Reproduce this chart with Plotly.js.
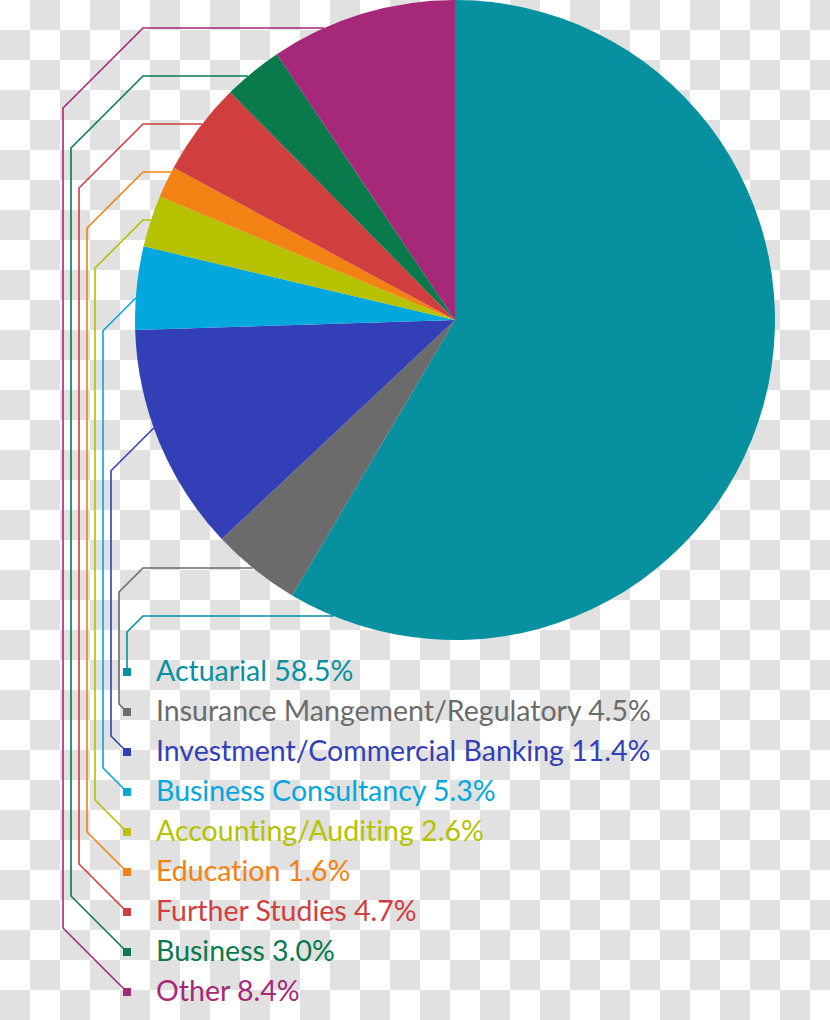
<!DOCTYPE html>
<html>
<head>
<meta charset="utf-8">
<script src="https://cdn.plot.ly/plotly-3.0.1.min.js"></script>
<style>
  html, body { margin: 0; padding: 0; }
  body {
    width: 830px; height: 1020px; overflow: hidden;
    background: repeating-conic-gradient(#e1e1e1 0% 25%, #ffffff 0% 50%) 0 0 / 60px 60px;
  }
  #chart { width: 830px; height: 1020px; }
  text { font-variant-ligatures: none; font-feature-settings: "liga" 0, "clig" 0; }
</style>
</head>
<body>
<div id="chart"></div>
<script>
// ---- data ----
const labels = [
  "Actuarial",
  "Insurance Mangement/Regulatory",
  "Investment/Commercial Banking",
  "Business Consultancy",
  "Accounting/Auditing",
  "Education",
  "Further Studies",
  "Business",
  "Other"
];
// percentages as printed in the legend
const values = [58.5, 4.5, 11.4, 5.3, 2.6, 1.6, 4.7, 3.0, 8.4];
// slice sizes as actually drawn in the picture (measured from slice angles)
const drawnShares = [58.5, 4.5, 11.5, 4.2, 2.6, 1.6, 4.7, 3.0, 9.4];
const colors = ["#07909f", "#6b6b6b", "#333fb6", "#02a7de", "#b6c200", "#f18213", "#d03e3f", "#087a4c", "#a52879"];

// ---- layout (pixels) ----
const W = 830, H = 1020;
const CX = 455, CY = 320, R = 320;
const markerX = 127, markerY0 = 672, rowStep = 40, markerSize = 8;
const trunkStep = 8, elbowX = 143, textX = 154;
const connectorY = [616, 568, 428, 298, 220, 172, 124, 76, 28];   // where connector meets the pie
const directDiag = [false, false, true, true, false, false, false, false, false];

const px = x => x / W;
const py = y => 1 - y / H;
const pt = (x, y) => px(x).toFixed(5) + ',' + py(y).toFixed(5);

const shapes = [];
const annotations = [];
labels.forEach((lab, i) => {
  const my = markerY0 + rowStep * i;
  const tx = markerX - trunkStep * i;
  const ye = connectorY[i];
  const xe = CX - Math.sqrt(R * R - (ye - CY) * (ye - CY));
  let path;
  const bottom = `M ${pt(markerX, my)} L ${pt(tx, my - (markerX - tx))}`;
  if (directDiag[i]) {
    path = bottom + ` L ${pt(tx, ye + (xe - tx))} L ${pt(xe, ye)}`;
  } else {
    path = bottom + ` L ${pt(tx, ye + (elbowX - tx))} L ${pt(elbowX, ye)} L ${pt(xe, ye)}`;
  }
  shapes.push({
    type: 'path', xref: 'paper', yref: 'paper', path: path,
    line: { color: colors[i], width: 1.6 }, fillcolor: 'rgba(0,0,0,0)'
  });
  shapes.push({
    type: 'rect', xref: 'paper', yref: 'paper',
    x0: px(markerX - markerSize / 2), x1: px(markerX + markerSize / 2),
    y0: py(my + markerSize / 2), y1: py(my - markerSize / 2),
    fillcolor: colors[i], line: { width: 0 }
  });
  annotations.push({
    xref: 'paper', yref: 'paper', x: px(textX), y: py(my - 2.5),
    xanchor: 'left', yanchor: 'middle', showarrow: false,
    text: lab + ' ' + values[i].toFixed(1) + '%',
    font: { family: 'Lato, "Open Sans", sans-serif', size: 28.5, color: colors[i] }
  });
});

const trace = {
  type: 'pie',
  labels: labels,
  values: drawnShares,
  sort: false,
  direction: 'clockwise',
  rotation: 0,
  textinfo: 'none',
  hoverinfo: 'label',
  marker: { colors: colors, line: { width: 0 } },
  domain: { x: [px(CX - R), px(CX + R)], y: [py(CY + R), py(CY - R)] },
  showlegend: false
};

const layout = {
  width: W, height: H,
  margin: { l: 0, r: 0, t: 0, b: 0 },
  paper_bgcolor: 'rgba(0,0,0,0)',
  plot_bgcolor: 'rgba(0,0,0,0)',
  showlegend: false,
  shapes: shapes,
  annotations: annotations
};

Plotly.newPlot('chart', [trace], layout, { displayModeBar: false, staticPlot: true });
</script>
</body>
</html>
